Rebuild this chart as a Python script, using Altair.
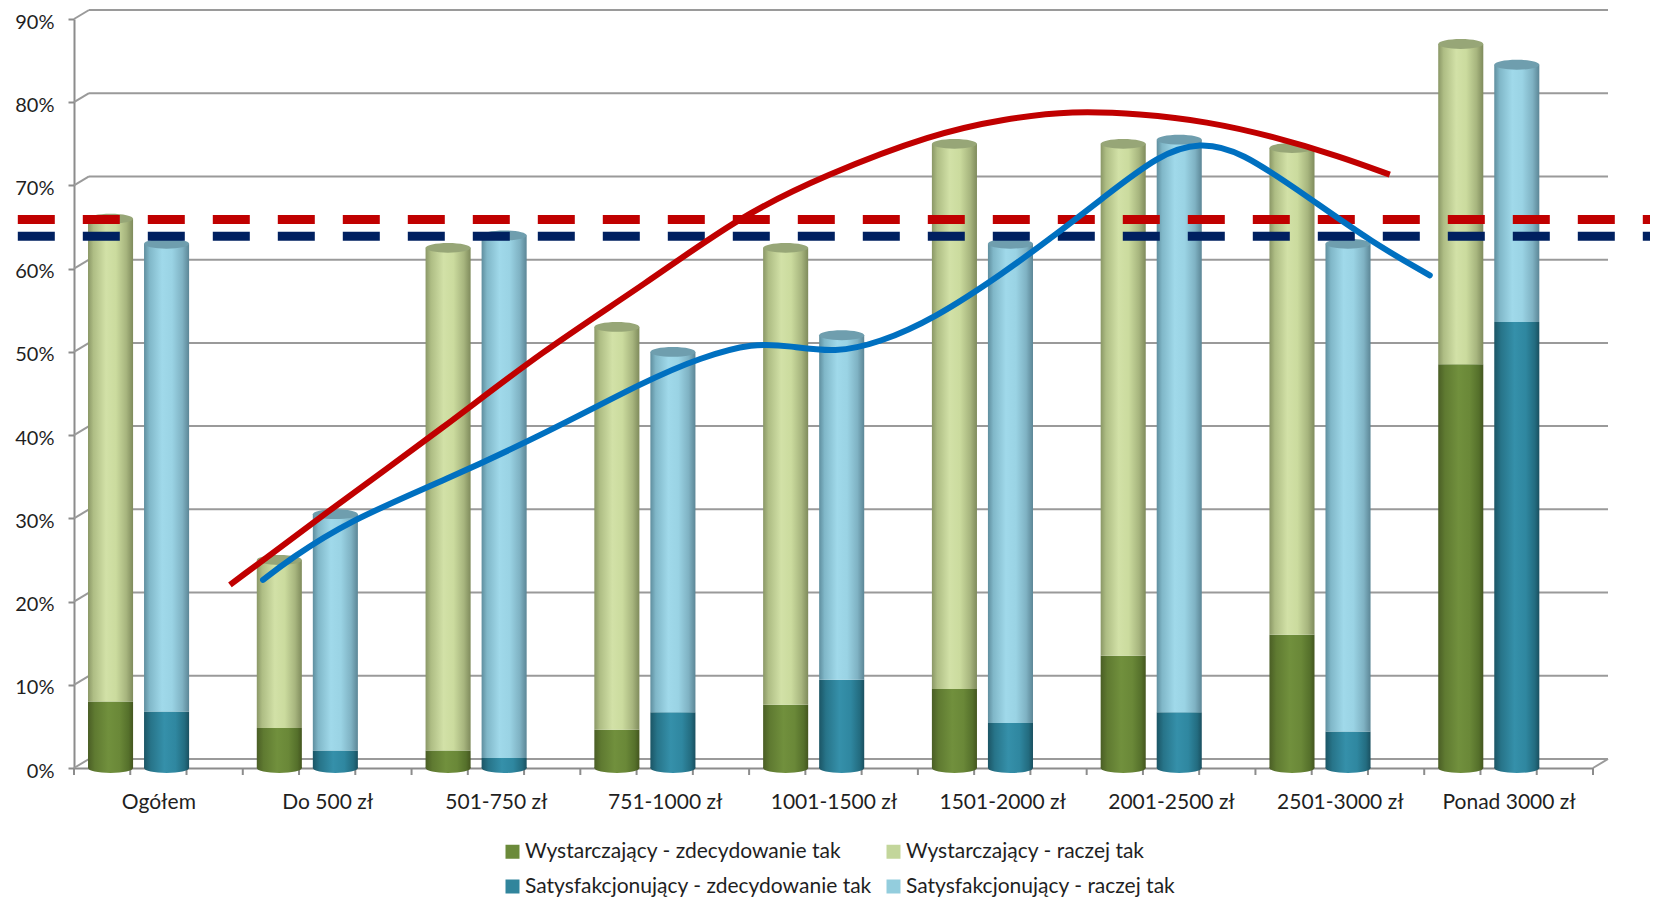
import json
import altair as alt
import pandas as pd

# ---------------- data ----------------
categories = ["Ogółem", "Do 500 zł", "501-750 zł", "751-1000 zł", "1001-1500 zł",
              "1501-2000 zł", "2001-2500 zł", "2501-3000 zł", "Ponad 3000 zł"]
wyst_zdecydowanie = [8.0, 4.8, 2.1, 4.6, 7.6, 9.5, 13.5, 16.0, 48.5]
wyst_raczej = [58.0, 20.2, 60.4, 48.4, 54.9, 65.5, 61.5, 58.5, 38.5]
sat_zdecydowanie = [6.8, 2.1, 1.2, 6.7, 10.6, 5.4, 6.7, 4.4, 53.6]
sat_raczej = [56.2, 28.4, 62.8, 43.3, 41.4, 57.6, 68.8, 58.6, 30.9]

series_names = ["Wystarczający - zdecydowanie tak", "Wystarczający - raczej tak",
                "Satysfakcjonujący - zdecydowanie tak", "Satysfakcjonujący - raczej tak"]
legend_colors = ["#6B8A3A", "#C3D69B", "#31859C", "#93CDDD"]

reference_levels = [65.9, 63.9]
reference_colors = ["#C00000", "#002060"]

y_ticks = [0, 10, 20, 30, 40, 50, 60, 70, 80, 90]

# hand-drawn trend curves (x in category units, y in %)
red_trend_x = [0.924, 1.475, 2.210, 2.761, 3.395, 3.945, 4.455, 5.089, 5.510, 5.918,
               6.315, 6.712, 7.103, 7.500, 7.796]
red_trend_y = [22.0, 30.4, 41.2, 49.9, 58.3, 66.3, 71.3, 76.2, 78.0, 79.0,
               78.6, 77.7, 75.9, 73.5, 71.3]
blue_trend_x = [1.120, 1.280, 1.617, 2.210, 2.802, 3.395, 3.709, 4.028, 4.242, 4.514,
                4.769, 5.089, 5.510, 5.829, 6.078, 6.434, 6.670, 6.908, 7.305, 7.695, 8.033]
blue_trend_y = [22.6, 25.1, 29.6, 34.7, 40.3, 46.6, 49.3, 51.1, 50.7, 49.9,
                51.1, 53.9, 59.5, 64.3, 68.2, 73.8, 75.2, 74.2, 68.7, 63.1, 59.2]

# ---------------- tables ----------------
N = len(categories)
BW = 0.267
OFF_W = 0.083
OFF_S = 0.415

rows = []
for i, c in enumerate(categories):
    for grp, off, zd, rc in (("W", OFF_W, wyst_zdecydowanie[i], wyst_raczej[i]),
                             ("S", OFF_S, sat_zdecydowanie[i], sat_raczej[i])):
        rows.append(dict(cat=c, grp=grp, x0=i + off, x1=i + off + BW, xc=i + off + BW / 2,
                         zero=0.0, zd=zd, total=zd + rc))
bars = pd.DataFrame(rows)
bw_df = bars[bars.grp == "W"]
bs_df = bars[bars.grp == "S"]

grid_df = pd.DataFrame({"v": y_ticks})
ticks_df = pd.DataFrame({"t": [k / 3 for k in range(3 * N + 1)]})
ref_df = pd.DataFrame({"level": reference_levels, "color": reference_colors})
red_df = pd.DataFrame({"x": red_trend_x, "y": red_trend_y})
blue_df = pd.DataFrame({"x": blue_trend_x, "y": blue_trend_y})
legend_df = pd.DataFrame({"series": series_names, "zero": 0.0})

XS = alt.Scale(domain=[0, N], nice=False, zero=False)
YS = alt.Scale(domain=[0, 90], nice=False, zero=False)

FONT = "Lato"
FS = 21
TXT = "#1F1F1F"
GRID = "#9A9A9A"
AXC = "#8C8C8C"
DX, DY = 15, -9   # depth offset of the back wall


def grad(stops):
    return {"gradient": "linear", "x1": 0, "x2": 1, "y1": 0, "y2": 0,
            "stops": [{"offset": o, "color": c} for o, c in stops]}


GREEN_LIGHT = grad([(0, "#8A9766"), (0.12, "#AEBD84"), (0.4, "#D2E1A7"), (0.62, "#CBDB9E"),
                    (0.85, "#A7B57E"), (1, "#7F8B5C")])
GREEN_DARK = grad([(0, "#4A5E25"), (0.15, "#5F7A31"), (0.45, "#71903D"), (0.7, "#6A8838"),
                   (0.9, "#55702B"), (1, "#44561F")])
BLUE_LIGHT = grad([(0, "#5F8E9E"), (0.12, "#80B7C8"), (0.4, "#A0D9EA"), (0.62, "#9AD3E4"),
                   (0.85, "#7FB2C3"), (1, "#5C8696")])
BLUE_DARK = grad([(0, "#1B5565"), (0.15, "#277489"), (0.45, "#3590AA"), (0.7, "#2F87A0"),
                  (0.9, "#236C80"), (1, "#1A5060")])

ELLIPSE = "M-1,0A1,0.22,0,1,0,1,0A1,0.22,0,1,0,-1,0Z"
CAP_SIZE = 2025

label_expr = json.dumps(categories, ensure_ascii=False) + "[floor(datum.value)]"

x_axis = alt.Axis(values=[i + 0.5 for i in range(N)], labelExpr=label_expr, ticks=False,
                  domain=True, domainColor=AXC, domainWidth=2, grid=False, title=None,
                  labelFont=FONT, labelFontSize=FS, labelColor=TXT, labelPadding=23,
                  labelAngle=0, labelBaseline="top")
y_axis = alt.Axis(values=y_ticks, labelExpr="datum.value + '%'", tickSize=6, tickColor=AXC,
                  tickWidth=2, domainColor=AXC, domainWidth=2, grid=False, title=None,
                  labelFont=FONT, labelFontSize=20, labelColor=TXT, labelPadding=14,
                  labelOffset=3)


def X(field=None, **kw):
    if field is None:
        return alt.X(scale=XS, axis=x_axis, **kw)
    return alt.X(field, scale=XS, axis=x_axis, **kw)


def Y(field=None, **kw):
    if field is None:
        return alt.Y(scale=YS, axis=y_axis, **kw)
    return alt.Y(field, scale=YS, axis=y_axis, **kw)


# ---------------- 3D-like frame ----------------
back_grid = alt.Chart(grid_df).mark_rule(color=GRID, strokeWidth=2, xOffset=DX, x2Offset=DX,
                                         yOffset=DY, y2Offset=DY).encode(
    x=X(datum=0), x2=alt.X2(datum=N), y=Y("v:Q"), y2="v:Q")
side_grid = alt.Chart(grid_df).mark_rule(color=GRID, strokeWidth=2, x2Offset=DX,
                                         y2Offset=DY).encode(
    x=X(datum=0), x2=alt.X2(datum=0), y=Y("v:Q"), y2="v:Q")
floor_right = alt.Chart(grid_df[grid_df.v == 0]).mark_rule(color=GRID, strokeWidth=2, x2Offset=DX,
                                                          y2Offset=DY).encode(
    x=X(datum=N), x2=alt.X2(datum=N), y=Y("v:Q"), y2="v:Q")
x_ticks = alt.Chart(ticks_df).mark_rule(color=AXC, strokeWidth=2, y2Offset=7).encode(
    x=X("t:Q"), y=Y(datum=0), y2=alt.Y2(datum=0))


# ---------------- bars ----------------
def bar_layer(df, fill, lo, hi):
    return alt.Chart(df).mark_bar(fill=fill, strokeWidth=0).encode(
        x=X("x0:Q"), x2="x1:Q", y=Y(f"{lo}:Q"), y2=f"{hi}:Q")


def cap_layer(df, fill, field):
    return alt.Chart(df).mark_point(shape=ELLIPSE, filled=True, size=CAP_SIZE, fill=fill,
                                    opacity=1, strokeWidth=0).encode(
        x=X("xc:Q"), y=Y(f"{field}:Q"))


w_dark = bar_layer(bw_df, GREEN_DARK, "zero", "zd")
w_light = bar_layer(bw_df, GREEN_LIGHT, "zd", "total")
s_dark = bar_layer(bs_df, BLUE_DARK, "zero", "zd")
s_light = bar_layer(bs_df, BLUE_LIGHT, "zd", "total")
w_bottom = cap_layer(bw_df, GREEN_DARK, "zero")
s_bottom = cap_layer(bs_df, BLUE_DARK, "zero")
w_top = cap_layer(bw_df, "#97A677", "total")
s_top = cap_layer(bs_df, "#6F9EAE", "total")

# ---------------- reference dashed lines ----------------
ref_lines = alt.Chart(ref_df).mark_rule(strokeWidth=9, strokeDash=[37, 28]).encode(
    x=X(datum=-0.333), x2=alt.X2(datum=9.39), y=Y("level:Q"),
    color=alt.Color("color:N", scale=None))

# ---------------- trend curves ----------------
red_line = alt.Chart(red_df).mark_line(color="#C00000", strokeWidth=6, interpolate="basis",
                                       strokeCap="butt").encode(x=X("x:Q"), y=Y("y:Q"))
blue_line = alt.Chart(blue_df).mark_line(color="#0070C0", strokeWidth=6, interpolate="basis",
                                         strokeCap="round").encode(x=X("x:Q"), y=Y("y:Q"))

# ---------------- legend ----------------
legend_layer = alt.Chart(legend_df).mark_square(opacity=0, size=1).encode(
    x=X("zero:Q"), y=Y("zero:Q"),
    color=alt.Color("series:N", scale=alt.Scale(domain=series_names, range=legend_colors),
                    legend=alt.Legend(orient="none", legendX=428, legendY=822, columns=2,
                                      direction="horizontal",
                                      title=None, symbolType="square", symbolSize=196,
                                      symbolOpacity=1, symbolStrokeWidth=0,
                                      labelFont=FONT, labelFontSize=FS, labelColor=TXT,
                                      labelLimit=600, labelOffset=2, rowPadding=13,
                                      columnPadding=11, padding=0)))

chart = alt.layer(
    x_ticks, back_grid, side_grid, floor_right,
    w_dark, w_light, s_dark, s_light,
    w_bottom, s_bottom, w_top, s_top,
    ref_lines, red_line, blue_line, legend_layer,
).properties(
    width=1519, height=749,
    autosize=alt.AutoSizeParams(type="none"),
    padding={"left": 66, "top": 11, "right": 57, "bottom": 130},
    background="white",
).configure_view(stroke=None)

chart.save("out.html", embed_options={"renderer": "svg", "actions": False})
